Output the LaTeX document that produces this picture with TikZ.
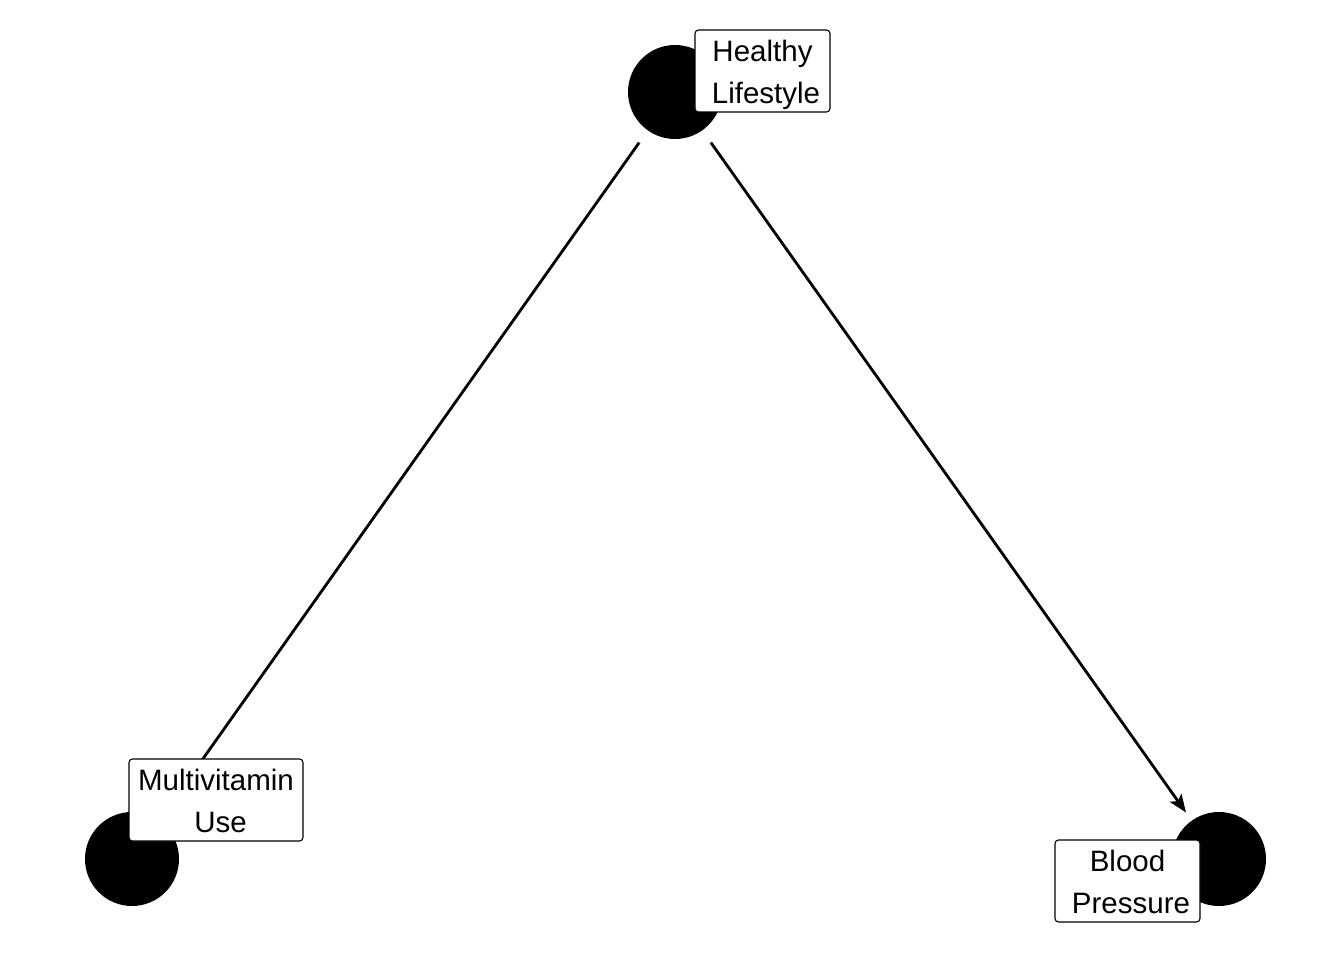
\documentclass[tikz,border=0pt]{standalone}
\usepackage{fontspec}
\setmainfont{Liberation Sans}
\usetikzlibrary{arrows.meta,calc}
\newcommand{\topstrut}{\rule{0pt}{30.5pt}}
\newcommand{\botstrut}{\rule[-8pt]{0pt}{8pt}}
\begin{document}
\begin{tikzpicture}[x=1pt,y=-1pt,
  dot/.style={circle,fill=black,minimum size=94pt,inner sep=0pt},
  lbl/.style={draw=black,fill=white,rounded corners=3.5pt,line width=1.1pt,minimum height=82pt,inner sep=0pt,align=center,font=\fontsize{29.5}{42}\selectfont},
  edge/.style={line width=2.8pt,-{Stealth[length=18pt,width=14pt,inset=4pt]}}]
\useasboundingbox (0,0) rectangle (1344,960);
\node[dot] (hl) at (675,92) {};
\node[dot] (mu) at (132,859) {};
\node[dot] (bp) at (1219,859) {};
\coordinate (hls1) at ($(hl)!62pt!(mu)$);
\coordinate (hls2) at ($(hl)!62pt!(bp)$);
\coordinate (mue) at ($(mu)!57pt!(hl)$);
\coordinate (bpe) at ($(bp)!57pt!(hl)$);
\draw[edge] (hls1) -- (mue);
\draw[edge] (hls2) -- (bpe);
\node[lbl,minimum width=135pt] (hlt) at (762.5,71) {\topstrut Healthy\\\hspace{7pt}Lifestyle\botstrut};
\node[lbl,minimum width=174pt] (mut) at (216,800) {\topstrut Multivitamin\\\hspace{9pt}Use\botstrut};
\node[lbl,minimum width=145pt] (bpt) at (1127.5,881) {\topstrut Blood\\\hspace{7pt}Pressure\botstrut};
\end{tikzpicture}
\end{document}
